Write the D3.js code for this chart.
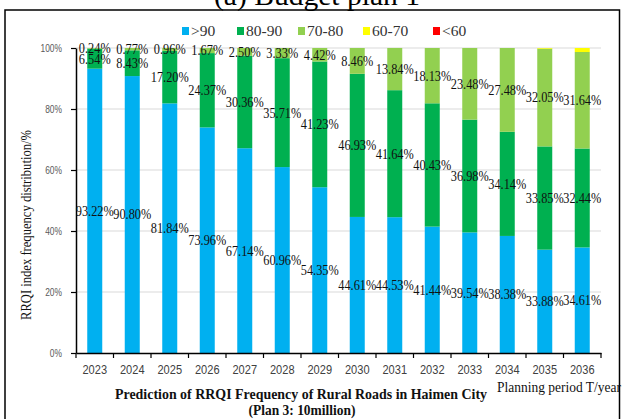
<!DOCTYPE html>
<html>
<head>
<meta charset="utf-8">
<script src="https://cdn.jsdelivr.net/npm/d3@7/dist/d3.min.js"></script>
<style>
  html, body { margin: 0; padding: 0; background: #fff; }
  svg { display: block; }
</style>
</head>
<body>
<svg id="chart" width="623" height="419"></svg>
<script>
const years = ["2023","2024","2025","2026","2027","2028","2029","2030","2031","2032","2033","2034","2035","2036"];
const seriesNames = [">90", "80-90", "70-80", "60-70", "<60"];
const seriesColors = ["#00B0F0", "#00B050", "#92D050", "#FFFF00", "#FF0000"];
const above90 = [93.22, 90.80, 81.84, 73.96, 67.14, 60.96, 54.35, 44.61, 44.53, 41.44, 39.54, 38.38, 33.88, 34.61];
const r80to90 = [6.54, 8.43, 17.20, 24.37, 30.36, 35.71, 41.23, 46.93, 41.64, 40.43, 36.98, 34.14, 33.85, 32.44];
const r70to80 = [0.24, 0.77, 0.96, 1.67, 2.50, 3.33, 4.42, 8.46, 13.84, 18.13, 23.48, 27.48, 32.05, 31.64];
const r60to70 = [0, 0, 0, 0, 0, 0, 0, 0, 0, 0, 0, 0, 0.22, 1.31];
const below60 = [0, 0, 0, 0, 0, 0, 0, 0, 0, 0, 0, 0, 0, 0];
const yTicks = [0, 20, 40, 60, 80, 100];
const labelledSeries = [0, 1, 2];

(function () {
const SERIF = "Liberation Serif, Times New Roman, serif";
const SANS = "Liberation Sans, Arial, sans-serif";
function condense(sel, f) {
  sel.each(function () {
    const w = this.getComputedTextLength();
    d3.select(this).attr("textLength", w * f).attr("lengthAdjust", "spacingAndGlyphs");
  });
}
function fitTo(sel, w) {
  sel.attr("textLength", w).attr("lengthAdjust", "spacingAndGlyphs");
}

const svg = d3.select("#chart");
const allSeries = [above90, r80to90, r70to80, r60to70, below60];

const rows = years.map((yr, i) => {
  const o = { year: yr };
  seriesNames.forEach((s, k) => o[s] = allSeries[k][i]);
  return o;
});
const stacked = d3.stack().keys(seriesNames)(rows);

const pLeft = 76, pRight = 601, pTop = 48, pBottom = 353;
const x = d3.scaleBand().domain(years).range([pLeft, pRight]).paddingInner(0.6).paddingOuter(0.3);
const y = d3.scaleLinear().domain([0, 100]).range([pBottom, pTop]);

// outer frame
svg.append("rect").attr("x", 5).attr("y", 10).attr("width", 614.5).attr("height", 420)
  .attr("fill", "none").attr("stroke", "#000").attr("stroke-width", 1.5);

// title (cut off at top)
svg.append("text").attr("x", 317).attr("y", 5).attr("text-anchor", "middle")
  .attr("font-family", SERIF).attr("font-size", 28)
  .attr("fill", "#000").text("(a) Budget plan 1").call(fitTo, 206);

// gridlines
svg.append("g").selectAll("line").data(yTicks.filter(d => d > 0)).join("line")
  .attr("x1", pLeft).attr("x2", pRight).attr("y1", d => y(d)).attr("y2", d => y(d))
  .attr("stroke", "#d9d9d9").attr("stroke-width", 1);

// bars
const g = svg.append("g");
stacked.forEach((layer, k) => {
  g.append("g").attr("fill", seriesColors[k]).selectAll("rect").data(layer).join("rect")
    .attr("x", d => x(d.data.year))
    .attr("width", x.bandwidth())
    .attr("y", d => y(d[1]))
    .attr("height", d => Math.max(0, y(d[0]) - y(d[1])));
});

// axes
const yAxis = d3.axisLeft(y).tickValues(yTicks).tickFormat(d => d + "%").tickSize(5).tickSizeOuter(0);
const ya = svg.append("g").attr("transform", `translate(${pLeft},0)`).call(yAxis);
ya.select(".domain").attr("stroke", "#000").attr("stroke-width", 1.5);
ya.selectAll(".tick line").attr("stroke", "#000").attr("stroke-width", 1.2);
ya.selectAll(".tick text").attr("font-family", SANS)
  .attr("font-size", 10.5).attr("fill", "#595959").attr("x", -14).call(condense, 0.8);

const xAxis = d3.axisBottom(x).tickSize(0).tickSizeOuter(0);
const xa = svg.append("g").attr("transform", `translate(0,${pBottom})`).call(xAxis);
xa.select(".domain").attr("stroke", "#000").attr("stroke-width", 1.5);
xa.selectAll(".tick text").attr("font-family", SANS)
  .attr("font-size", 13).attr("fill", "#404040").attr("y", 12).call(condense, 0.85);
// category boundary ticks
svg.append("g").selectAll("line").data(d3.range(years.length + 1)).join("line")
  .attr("x1", i => pLeft + i * (pRight - pLeft) / years.length)
  .attr("x2", i => pLeft + i * (pRight - pLeft) / years.length)
  .attr("y1", pBottom).attr("y2", pBottom + 5)
  .attr("stroke", "#000").attr("stroke-width", 1.2);

// data labels
const lg = svg.append("g").attr("font-family", SERIF)
  .attr("font-size", 14).attr("fill", "#111").attr("text-anchor", "middle");
labelledSeries.forEach(k => {
  lg.selectAll(null).data(stacked[k]).join("text")
    .attr("x", d => x(d.data.year) + x.bandwidth() / 2)
    .attr("y", d => y((d[0] + d[1]) / 2))
    .attr("dy", "0.35em")
    .text(d => (d[1] - d[0]).toFixed(2) + "%")
    .call(condense, 0.88);
});

// legend
const legX = [182, 237, 298, 363, 433];
const leg = svg.append("g");
seriesNames.forEach((s, k) => {
  leg.append("rect").attr("x", legX[k]).attr("y", 27).attr("width", 7).attr("height", 8).attr("fill", seriesColors[k]);
  leg.append("text").attr("x", legX[k] + 9).attr("y", 31).attr("dy", "0.35em")
    .attr("font-family", SERIF).attr("font-size", 15.5)
    .attr("fill", "#333").text(s);
});

// axis titles
svg.append("text").attr("transform", "translate(31,225) rotate(-90)").attr("text-anchor", "middle")
  .attr("font-family", SERIF).attr("font-size", 15)
  .attr("fill", "#111").text("RRQI index frequency distribution/%").call(fitTo, 190);

svg.append("text").attr("x", 497).attr("y", 392)
  .attr("font-family", SERIF).attr("font-size", 14.5)
  .attr("fill", "#111").text("Planning period T/year").call(fitTo, 124);

svg.append("text").attr("x", 301).attr("y", 399).attr("text-anchor", "middle")
  .attr("font-family", SERIF).attr("font-size", 14.5).attr("font-weight", "bold")
  .attr("fill", "#111").text("Prediction of RRQI Frequency of Rural Roads in Haimen City").call(fitTo, 372);
svg.append("text").attr("x", 302).attr("y", 415).attr("text-anchor", "middle")
  .attr("font-family", SERIF).attr("font-size", 14.5).attr("font-weight", "bold")
  .attr("fill", "#111").text("(Plan 3: 10million)").call(fitTo, 107);
})();
</script>
</body>
</html>
